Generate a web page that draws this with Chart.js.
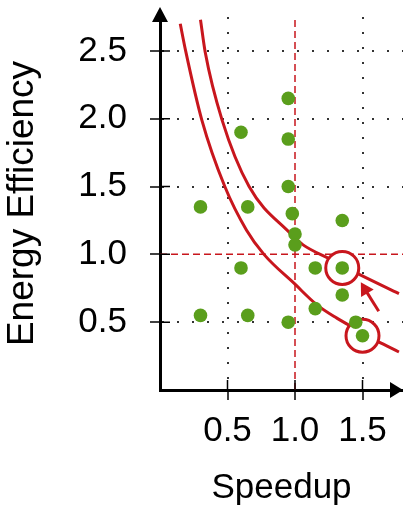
<!DOCTYPE html>
<html>
<head>
<meta charset="utf-8">
<script src="https://cdn.jsdelivr.net/npm/chart.js@4.4.1/dist/chart.umd.min.js"></script>
<style>
  html, body { margin: 0; padding: 0; background: #fff; }
  #chart { display: block; }
</style>
</head>
<body>
<canvas id="chart" width="403" height="512"></canvas>
<script>
// measured configurations
const speedup    = [0.95, 0.60, 0.95, 0.95, 0.30, 0.65, 0.98, 1.35, 1.00, 1.00, 0.60, 1.15, 1.35, 1.35, 1.15, 0.30, 0.65, 0.95, 1.45, 1.50];
const efficiency = [2.15, 1.90, 1.85, 1.50, 1.35, 1.35, 1.30, 1.25, 1.15, 1.07, 0.90, 0.90, 0.90, 0.70, 0.60, 0.55, 0.55, 0.50, 0.50, 0.40];

// red iso-curves
const innerCurveX = [0.15, 0.19, 0.31, 0.48, 0.64, 0.77, 1.00, 1.16, 1.31, 1.45, 1.61, 1.77];
const innerCurveY = [2.70, 2.50, 1.99, 1.50, 1.18, 1.00, 0.78, 0.63, 0.53, 0.45, 0.36, 0.28];
const outerCurveX = [0.30, 0.335, 0.46, 0.66, 0.96, 1.06, 1.25, 1.48, 1.77];
const outerCurveY = [2.73, 2.49, 1.99, 1.50, 1.16, 1.07, 0.97, 0.85, 0.71];

// circled points and the arrow between them (tail, head)
const circledX = [1.35, 1.50];
const circledY = [0.90, 0.40];
const arrowX = [1.62, 1.52];
const arrowY = [0.58, 0.74];

const xTicks = [0.5, 1.0, 1.5];
const yTicks = [0.5, 1.0, 1.5, 2.0, 2.5];
const baseline = 1.0;
const xMax = 1.8;
const yMax = 2.75;

const RED = '#c8161d';
const GREEN = '#5a9e1c';
const FONT = { family: '"Liberation Sans", Arial, sans-serif', size: 35 };
const Y_TITLE_FONT = { family: '"Liberation Sans", Arial, sans-serif', size: 37 };

const toPoints = (xs, ys) => xs.map((x, i) => ({ x: x, y: ys[i] }));

const gridColor = c => (c.tick && c.tick.value === baseline) ? 'rgba(0,0,0,0)' : '#333';

// arrowheads on the axes + tick marks that cross into the plot
const axisDecor = {
    id: 'axisDecor',
    afterDraw(chart) {
        const { ctx, chartArea, scales } = chart;
        const left = chartArea.left, bottom = chartArea.bottom;
        ctx.save();
        ctx.strokeStyle = '#000';
        ctx.lineWidth = 1.5;
        ctx.beginPath();
        scales.y.ticks.forEach(t => {
            const py = scales.y.getPixelForValue(t.value);
            ctx.moveTo(left, py);
            ctx.lineTo(left + 10, py);
        });
        scales.x.ticks.forEach(t => {
            const px = scales.x.getPixelForValue(t.value);
            ctx.moveTo(px, bottom);
            ctx.lineTo(px, bottom - 10);
        });
        ctx.stroke();

        ctx.fillStyle = '#000';
        ctx.beginPath();
        ctx.moveTo(left, chartArea.top - 10);
        ctx.lineTo(left - 8, chartArea.top + 5);
        ctx.lineTo(left + 8, chartArea.top + 5);
        ctx.closePath();
        ctx.fill();

        ctx.beginPath();
        ctx.moveTo(chartArea.right, bottom);
        ctx.lineTo(chartArea.right - 13, bottom - 8);
        ctx.lineTo(chartArea.right - 13, bottom + 8);
        ctx.closePath();
        ctx.fill();
        ctx.restore();
    }
};

new Chart(document.getElementById('chart'), {
    type: 'scatter',
    data: {
        datasets: [
            {
                data: toPoints(speedup, efficiency),
                backgroundColor: GREEN,
                borderWidth: 0,
                pointRadius: 6.8,
                order: 0
            },
            {
                data: toPoints(circledX, circledY),
                backgroundColor: '#fff',
                borderColor: RED,
                borderWidth: 3,
                pointRadius: 16.5,
                order: 1
            },
            {
                data: toPoints(arrowX, arrowY),
                showLine: true,
                borderColor: RED,
                borderWidth: 3,
                pointRadius: [0, 8.5],
                pointStyle: 'triangle',
                rotation: -31,
                pointBackgroundColor: RED,
                pointBorderWidth: 0,
                order: 1
            },
            {
                data: toPoints(outerCurveX, outerCurveY),
                showLine: true,
                borderColor: RED,
                borderWidth: 3,
                pointRadius: 0,
                cubicInterpolationMode: 'monotone',
                order: 2
            },
            {
                data: toPoints(innerCurveX, innerCurveY),
                showLine: true,
                borderColor: RED,
                borderWidth: 3,
                pointRadius: 0,
                cubicInterpolationMode: 'monotone',
                order: 2
            },
            {
                data: [{ x: baseline, y: 0 }, { x: baseline, y: yMax }],
                showLine: true,
                borderColor: RED,
                borderWidth: 1.5,
                borderDash: [7, 4],
                pointRadius: 0,
                order: 3
            },
            {
                data: [{ x: 0, y: baseline }, { x: xMax, y: baseline }],
                showLine: true,
                borderColor: RED,
                borderWidth: 1.5,
                borderDash: [7, 4],
                pointRadius: 0,
                order: 3
            }
        ]
    },
    options: {
        responsive: false,
        animation: false,
        devicePixelRatio: 1,
        events: [],
        layout: { autoPadding: false, padding: { top: 17, right: 0, bottom: 0, left: 0 } },
        plugins: {
            legend: { display: false },
            tooltip: { enabled: false }
        },
        scales: {
            x: {
                type: 'linear',
                min: 0,
                max: xMax,
                afterBuildTicks: s => { s.ticks = xTicks.map(v => ({ value: v })); },
                afterFit: s => {
                    s.height = 122;
                    s.paddingLeft = 0;
                    s.paddingRight = 0;
                },
                grid: { color: gridColor, lineWidth: 2, tickLength: 10, tickColor: '#000', tickWidth: 1.5 },
                border: { display: true, color: '#000', width: 3, dash: [2, 13] },
                ticks: {
                    font: FONT, color: '#000', padding: 10, autoSkip: false, maxRotation: 0,
                    callback: v => v.toFixed(1)
                },
                title: { display: true, text: 'Speedup', font: FONT, color: '#000', padding: { top: 0, bottom: 3 } }
            },
            y: {
                type: 'linear',
                min: 0,
                max: yMax,
                afterBuildTicks: s => { s.ticks = yTicks.map(v => ({ value: v })); },
                afterFit: s => {
                    s.width = 160;
                    s.paddingTop = 0;
                    s.paddingBottom = 0;
                },
                grid: { color: gridColor, lineWidth: 2, tickLength: 10, tickColor: '#000', tickWidth: 1.5 },
                border: { display: true, color: '#000', width: 3, dash: [2, 13] },
                ticks: {
                    font: FONT, color: '#000', padding: 23, autoSkip: false,
                    callback: v => v.toFixed(1)
                },
                title: { display: true, text: 'Energy Efficiency', font: Y_TITLE_FONT, color: '#000', padding: { top: 1, bottom: 0 } }
            }
        }
    },
    plugins: [axisDecor]
});
</script>
</body>
</html>
